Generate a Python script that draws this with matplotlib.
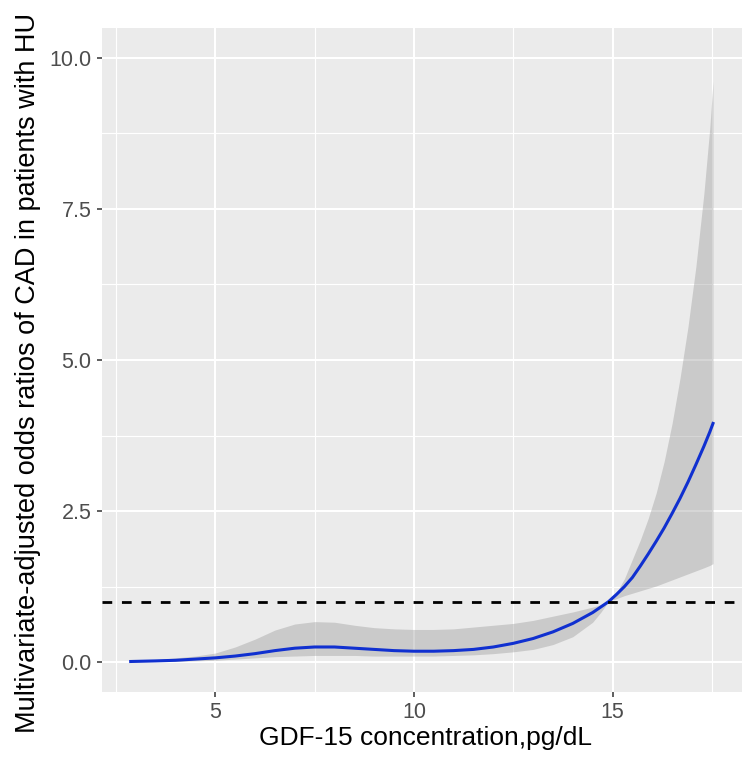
import matplotlib
matplotlib.use("Agg")
import matplotlib.pyplot as plt
from matplotlib.ticker import MultipleLocator, FormatStrFormatter

plt.rcParams['font.family'] = ['Liberation Sans', 'DejaVu Sans']

# GDF-15 concentration (pg/dL) and the fitted odds ratio with its 95% band
gdf15 = [2.87, 3.5, 4.0, 4.5, 5.0, 5.5, 6.0, 6.5, 7.0, 7.5, 8.0, 8.5, 9.0, 9.5,
         10.0, 10.5, 11.0, 11.5, 12.0, 12.5, 13.0, 13.5, 14.0, 14.5, 14.7,
         14.9, 15.1, 15.3, 15.5, 15.7, 15.9, 16.1, 16.3, 16.5, 16.7, 16.9,
         17.1, 17.3, 17.45, 17.53]
odds_ratio = [0.01, 0.02, 0.03, 0.05, 0.07, 0.10, 0.14, 0.19, 0.23, 0.25, 0.25,
              0.23, 0.21, 0.19, 0.18, 0.18, 0.19, 0.21, 0.25, 0.31, 0.39, 0.50,
              0.64, 0.82, 0.91,
              1.00, 1.12, 1.25, 1.40, 1.59, 1.79, 2.00, 2.22, 2.46, 2.71, 2.98,
              3.27, 3.57, 3.81, 3.95]
ci_upper = [0.02, 0.04, 0.07, 0.10, 0.15, 0.25, 0.38, 0.53, 0.63, 0.67, 0.66,
            0.61, 0.57, 0.55, 0.54, 0.54, 0.55, 0.58, 0.61, 0.64, 0.69, 0.76,
            0.83, 0.91, 0.95,
            1.00, 1.15, 1.38, 1.70, 2.02, 2.38, 2.80, 3.32, 3.95, 4.70, 5.55,
            6.55, 7.75, 8.85, 9.61]
ci_lower = [0.00, 0.01, 0.01, 0.02, 0.03, 0.05, 0.07, 0.09, 0.10, 0.11, 0.11,
            0.11, 0.10, 0.10, 0.10, 0.10, 0.11, 0.12, 0.14, 0.17, 0.21, 0.29,
            0.42, 0.66, 0.82,
            1.00, 1.05, 1.10, 1.14, 1.18, 1.22, 1.26, 1.31, 1.36, 1.41, 1.46,
            1.51, 1.56, 1.60, 1.63]
reference_or = 1.0

fig = plt.figure(figsize=(7.42, 7.57), dpi=100)
ax = fig.add_axes([101.7 / 742, 65.3 / 757, 640.3 / 742, 663.4 / 757])

# ggplot-like grey panel
ax.set_facecolor('#EBEBEB')
for s in ax.spines.values():
    s.set_visible(False)
ax.xaxis.set_major_locator(MultipleLocator(5))
ax.xaxis.set_minor_locator(MultipleLocator(2.5))
ax.yaxis.set_major_locator(MultipleLocator(2.5))
ax.yaxis.set_minor_locator(MultipleLocator(1.25))
ax.yaxis.set_major_formatter(FormatStrFormatter('%.1f'))
ax.grid(which='major', color='white', linewidth=1.5)
ax.grid(which='minor', color='white', linewidth=0.8)
ax.set_axisbelow(True)
ax.tick_params(which='major', length=3.8, width=1.1, color='#333333',
               labelsize=15.5, labelcolor='#4D4D4D', pad=3.5)
ax.tick_params(which='minor', length=0)

ax.fill_between(gdf15, ci_lower, ci_upper, color='#999999', alpha=0.4,
                linewidth=0, zorder=2)
ax.plot(gdf15, odds_ratio, color='#1030D0', linewidth=2.2, zorder=3)
ax.axhline(reference_or, color='black', linewidth=2, linestyle=(0, (3.5, 3.5)),
           zorder=4)

ax.set_xlim(2.14, 18.26)
ax.set_ylim(-0.49, 10.49)

ax.set_xlabel('GDF-15 concentration,pg/dL', fontsize=19, labelpad=2)
ax.set_ylabel('Multivariate-adjusted odds ratios of CAD in patients with HU',
              fontsize=19.5, labelpad=6)
ax.xaxis.label.set_x(0.505)
ax.yaxis.label.set_y(0.48)

fig.savefig('out.png', dpi=100)
